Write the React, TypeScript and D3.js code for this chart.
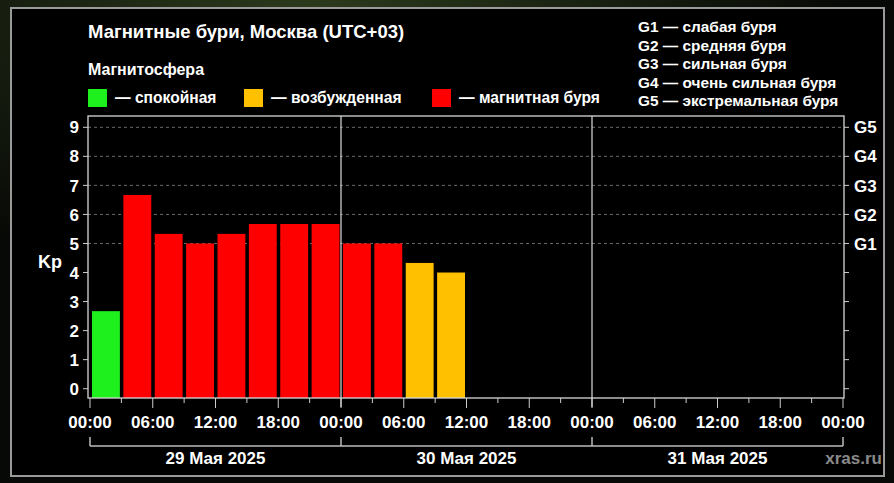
import * as d3 from "d3"
import { useEffect, useRef } from "react"

// Kp index per 3-hour slot, starting 29 May 2025 00:00 (UTC+03)
const kpValues = [2.67, 6.67, 5.33, 5.0, 5.33, 5.67, 5.67, 5.67, 5.0, 5.0, 4.33, 4.0]
const dayLabels = ["29 Мая 2025", "30 Мая 2025", "31 Мая 2025"]
const yTicks = [0, 1, 2, 3, 4, 5, 6, 7, 8, 9]
const gLevels = ["G1", "G2", "G3", "G4", "G5"]
const gLegend = [
  "G1 — слабая буря",
  "G2 — средняя буря",
  "G3 — сильная буря",
  "G4 — очень сильная буря",
  "G5 — экстремальная буря",
]
const stateLegend = [
  { label: "— спокойная", color: "#1ef01e" },
  { label: "— возбужденная", color: "#ffc000" },
  { label: "— магнитная буря", color: "#ff0000" },
]

const W = 894
const H = 483
const FONT = "'Liberation Sans', Arial, sans-serif"

const colorFor = (kp: number) =>
  kp < 4 ? stateLegend[0].color : kp < 5 ? stateLegend[1].color : stateLegend[2].color

const App = () => {
  const svgRef = useRef<SVGSVGElement>(null)

  useEffect(() => {
    if (!svgRef.current) return
    const svg = d3.select(svgRef.current)
    svg.selectAll("*").remove()

    // background: dark photo-ish outside, black panel inside
    const defs = svg.append("defs")
    const grad = defs
      .append("radialGradient")
      .attr("id", "bg")
      .attr("cx", "35%")
      .attr("cy", "0%")
      .attr("r", "60%")
    grad.append("stop").attr("offset", "0%").attr("stop-color", "#2c3a1c")
    grad.append("stop").attr("offset", "100%").attr("stop-color", "#070906")
    svg.append("rect").attr("width", W).attr("height", H).attr("fill", "url(#bg)")
    svg
      .append("rect")
      .attr("x", 11)
      .attr("y", 8)
      .attr("width", 873)
      .attr("height", 468)
      .attr("fill", "#000")
      .attr("stroke", "#9a9a9a")
      .attr("stroke-width", 2)

    const plot = { left: 88, right: 844, top: 116, bottom: 398 }
    const x = d3.scaleLinear().domain([0, 72]).range([90, 843])
    const y = d3.scaleLinear().domain([0, 9]).range([388.7, 127.3])

    // header texts
    svg
      .append("text")
      .attr("x", 88)
      .attr("y", 38)
      .attr("fill", "#fff")
      .attr("font-family", FONT)
      .attr("font-weight", "bold")
      .attr("font-size", 18.5)
      .text("Магнитные бури, Москва (UTC+03)")
    svg
      .append("text")
      .attr("x", 88)
      .attr("y", 75)
      .attr("fill", "#fff")
      .attr("font-family", FONT)
      .attr("font-weight", "bold")
      .attr("font-size", 16)
      .text("Магнитосфера")

    const legendX = [88, 244, 432]
    stateLegend.forEach((d, i) => {
      svg
        .append("rect")
        .attr("x", legendX[i])
        .attr("y", 89)
        .attr("width", 19)
        .attr("height", 18)
        .attr("fill", d.color)
      svg
        .append("text")
        .attr("x", legendX[i] + 27)
        .attr("y", 103)
        .attr("fill", "#fff")
        .attr("font-family", FONT)
        .attr("font-weight", "bold")
        .attr("font-size", 15.6)
        .text(d.label)
    })

    svg
      .append("g")
      .selectAll("text")
      .data(gLegend)
      .join("text")
      .attr("x", 638)
      .attr("y", (_, i) => 32 + i * 18.6)
      .attr("fill", "#fff")
      .attr("font-family", FONT)
      .attr("font-weight", "bold")
      .attr("font-size", 15.4)
      .text((d) => d)

    // dashed gridlines for storm levels
    svg
      .append("g")
      .selectAll("line")
      .data([5, 6, 7, 8, 9])
      .join("line")
      .attr("x1", plot.left)
      .attr("x2", plot.right)
      .attr("y1", (d) => y(d))
      .attr("y2", (d) => y(d))
      .attr("stroke", "#6a6a6a")
      .attr("stroke-width", 1)
      .style("stroke-dasharray", "3,3")

    // bars
    svg
      .append("g")
      .selectAll("rect")
      .data(kpValues)
      .join("rect")
      .attr("x", (_, i) => x(i * 3) + 2)
      .attr("width", (_, i) => x(i * 3 + 3) - x(i * 3) - 3.5)
      .attr("y", (d) => y(d))
      .attr("height", (d) => plot.bottom - y(d))
      .attr("fill", (d) => colorFor(d))

    // day separators
    svg
      .append("g")
      .selectAll("line")
      .data([24, 48])
      .join("line")
      .attr("x1", (d) => x(d))
      .attr("x2", (d) => x(d))
      .attr("y1", plot.top)
      .attr("y2", plot.bottom + 9)
      .attr("stroke", "#ddd")
      .attr("stroke-width", 1.2)

    // frame of plot
    svg
      .append("rect")
      .attr("x", plot.left)
      .attr("y", plot.top)
      .attr("width", plot.right - plot.left)
      .attr("height", plot.bottom - plot.top)
      .attr("fill", "none")
      .attr("stroke", "#d8d8d8")
      .attr("stroke-width", 1.3)

    // left axis
    const left = svg.append("g")
    left
      .selectAll("line")
      .data(yTicks)
      .join("line")
      .attr("x1", plot.left - 5)
      .attr("x2", plot.left)
      .attr("y1", (d) => y(d))
      .attr("y2", (d) => y(d))
      .attr("stroke", "#ccc")
    left
      .selectAll("text")
      .data(yTicks)
      .join("text")
      .attr("x", 79)
      .attr("y", (d) => y(d))
      .attr("dy", "0.36em")
      .attr("text-anchor", "end")
      .attr("fill", "#fff")
      .attr("font-family", FONT)
      .attr("font-weight", "bold")
      .attr("font-size", 17)
      .text((d) => d)
    svg
      .append("text")
      .attr("x", 50)
      .attr("y", 262)
      .attr("dy", "0.36em")
      .attr("text-anchor", "middle")
      .attr("fill", "#fff")
      .attr("font-family", FONT)
      .attr("font-weight", "bold")
      .attr("font-size", 18)
      .text("Kp")

    // right axis (G levels)
    const right = svg.append("g")
    right
      .selectAll("line")
      .data(yTicks)
      .join("line")
      .attr("x1", plot.right)
      .attr("x2", plot.right + 5)
      .attr("y1", (d) => y(d))
      .attr("y2", (d) => y(d))
      .attr("stroke", "#ccc")
    right
      .selectAll("text")
      .data(gLevels)
      .join("text")
      .attr("x", 854)
      .attr("y", (_, i) => y(i + 5))
      .attr("dy", "0.36em")
      .attr("fill", "#fff")
      .attr("font-family", FONT)
      .attr("font-weight", "bold")
      .attr("font-size", 17)
      .text((d) => d)

    // bottom axis ticks every 3h, labels every 6h
    const hours = d3.range(0, 73, 3)
    svg
      .append("g")
      .selectAll("line")
      .data(hours)
      .join("line")
      .attr("x1", (d) => x(d))
      .attr("x2", (d) => x(d))
      .attr("y1", plot.bottom)
      .attr("y2", (d) => plot.bottom + (d % 6 === 0 ? 10 : 5))
      .attr("stroke", "#ccc")
    svg
      .append("g")
      .selectAll("text")
      .data(hours.filter((h) => h % 6 === 0))
      .join("text")
      .attr("x", (d) => x(d))
      .attr("y", 422)
      .attr("dy", "0.36em")
      .attr("text-anchor", "middle")
      .attr("fill", "#fff")
      .attr("font-family", FONT)
      .attr("font-weight", "bold")
      .attr("font-size", 17)
      .text((d) => `${String(d % 24).padStart(2, "0")}:00`)

    // date brackets
    const br = svg.append("g")
    br.append("line")
      .attr("x1", x(0))
      .attr("x2", x(72))
      .attr("y1", 446)
      .attr("y2", 446)
      .attr("stroke", "#bbb")
      .attr("stroke-width", 1.5)
    br.selectAll(".tk")
      .data([0, 24, 48, 72])
      .join("line")
      .attr("x1", (d) => x(d))
      .attr("x2", (d) => x(d))
      .attr("y1", 437)
      .attr("y2", 446)
      .attr("stroke", "#bbb")
      .attr("stroke-width", 1.5)
    br.selectAll("text")
      .data(dayLabels)
      .join("text")
      .attr("x", (_, i) => x(i * 24 + 12))
      .attr("y", 458)
      .attr("dy", "0.36em")
      .attr("text-anchor", "middle")
      .attr("fill", "#fff")
      .attr("font-family", FONT)
      .attr("font-weight", "bold")
      .attr("font-size", 17)
      .text((d) => d)

    svg
      .append("text")
      .attr("x", 882)
      .attr("y", 458)
      .attr("dy", "0.36em")
      .attr("text-anchor", "end")
      .attr("fill", "#8a8a8a")
      .attr("font-family", FONT)
      .attr("font-weight", "bold")
      .attr("font-size", 17)
      .text("xras.ru")
  }, [])

  return (
    <svg
      ref={svgRef}
      width={W}
      height={H}
      style={{ position: "absolute", left: 0, top: 0, display: "block" }}
    />
  )
}

export default App
